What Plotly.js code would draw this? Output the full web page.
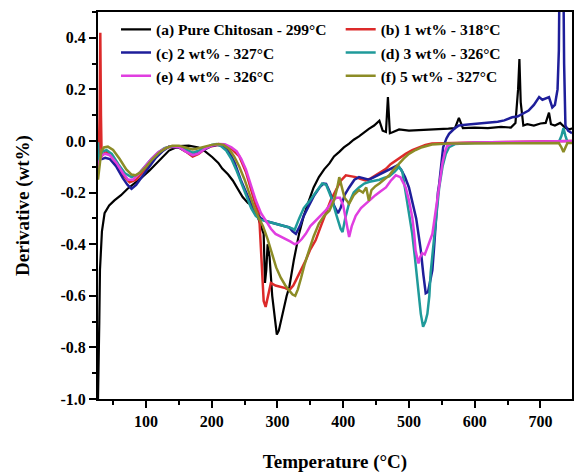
<!DOCTYPE html>
<html>
<head>
<meta charset="utf-8">
<script src="https://cdn.plot.ly/plotly-3.0.1.min.js"></script>
<style>html,body{margin:0;padding:0;background:#fff;}#chart{width:574px;height:473px;}</style>
</head>
<body>
<div id="chart"></div>
<script>
// Series names (legend)
const seriesNames = [
  "(a) Pure Chitosan - 299°C",
  "(b) 1 wt% - 318°C",
  "(c) 2 wt% - 327°C",
  "(d) 3 wt% - 326°C",
  "(e) 4 wt% - 326°C",
  "(f) 5 wt% - 327°C"
];
// [temperature °C, derivative wt%]
const pureChitosan = [[27,-1.0],[28,-0.9],[29,-0.7],[30,-0.5],[31,-0.42],[33,-0.35],[37,-0.28],[44,-0.25],[52,-0.23],[62,-0.21],[72,-0.185],[82,-0.165],[92,-0.145],[105,-0.115],[115,-0.09],[125,-0.065],[135,-0.037],[150,-0.02],[165,-0.018],[180,-0.025],[190,-0.04],[201,-0.063],[210,-0.085],[216,-0.107],[225,-0.13],[232,-0.153],[240,-0.185],[247,-0.217],[255,-0.24],[262,-0.25],[268,-0.28],[272,-0.31],[276,-0.333],[279,-0.36],[281,-0.55],[283,-0.5],[285,-0.4],[288,-0.45],[292,-0.6],[296,-0.7],[299,-0.75],[302,-0.735],[306,-0.69],[310,-0.64],[314,-0.6],[318,-0.566],[325,-0.46],[333,-0.358],[340,-0.29],[348,-0.23],[355,-0.18],[363,-0.14],[371,-0.11],[379,-0.087],[386,-0.06],[394,-0.042],[401,-0.025],[409,-0.01],[416,0.005],[424,0.018],[431,0.032],[439,0.047],[447,0.06],[455,0.079],[460,0.04],[465,0.035],[468,0.17],[471,0.03],[475,0.034],[485,0.045],[500,0.04],[520,0.042],[540,0.045],[560,0.048],[570,0.05],[576,0.09],[582,0.05],[600,0.052],[620,0.05],[640,0.055],[655,0.052],[662,0.07],[666,0.2],[668,0.318],[670,0.15],[674,0.06],[680,0.065],[690,0.06],[700,0.068],[708,0.07],[713,0.11],[716,0.065],[722,0.06],[730,0.07],[738,0.05],[745,0.045],[748,0.05]];
const wt1 = [[27,-0.12],[28,-0.075],[29.5,0.1],[30.5,0.42],[31.5,0.1],[32.5,-0.06],[35,-0.05],[40,-0.043],[48,-0.06],[58,-0.1],[66,-0.135],[75,-0.16],[85,-0.15],[95,-0.12],[105,-0.09],[115,-0.06],[125,-0.035],[135,-0.022],[150,-0.025],[160,-0.04],[171,-0.06],[180,-0.05],[190,-0.03],[200,-0.02],[210,-0.015],[222,-0.02],[232,-0.035],[242,-0.06],[252,-0.12],[260,-0.19],[267,-0.25],[272,-0.28],[276,-0.45],[279,-0.62],[282,-0.643],[286,-0.6],[290,-0.55],[297,-0.56],[305,-0.565],[312,-0.57],[318,-0.578],[324,-0.56],[328,-0.54],[336,-0.5],[343,-0.462],[350,-0.42],[358,-0.385],[366,-0.33],[373,-0.28],[381,-0.23],[389,-0.19],[396,-0.155],[404,-0.133],[411,-0.135],[419,-0.14],[427,-0.148],[434,-0.153],[442,-0.145],[449,-0.133],[457,-0.12],[465,-0.108],[472,-0.09],[480,-0.075],[488,-0.062],[495,-0.05],[505,-0.035],[515,-0.024],[525,-0.015],[535,-0.01],[560,-0.008],[600,-0.006],[650,-0.004],[700,-0.002],[748,0.0]];
const wt2 = [[27,-0.09],[29,-0.07],[33,-0.07],[38,-0.065],[45,-0.07],[55,-0.1],[65,-0.145],[72,-0.17],[78,-0.185],[85,-0.17],[95,-0.135],[105,-0.1],[115,-0.065],[125,-0.04],[135,-0.022],[150,-0.025],[160,-0.04],[171,-0.055],[180,-0.045],[190,-0.03],[200,-0.018],[210,-0.015],[218,-0.02],[226,-0.04],[235,-0.085],[244,-0.15],[252,-0.2],[260,-0.245],[267,-0.28],[275,-0.3],[282,-0.31],[290,-0.315],[298,-0.32],[305,-0.325],[312,-0.33],[318,-0.335],[323,-0.35],[328,-0.36],[334,-0.33],[340,-0.29],[348,-0.25],[356,-0.21],[364,-0.18],[370,-0.165],[374,-0.166],[380,-0.2],[386,-0.25],[392,-0.28],[396,-0.26],[402,-0.21],[409,-0.18],[417,-0.15],[424,-0.14],[431,-0.145],[439,-0.15],[447,-0.14],[455,-0.13],[463,-0.12],[470,-0.11],[477,-0.1],[482,-0.095],[488,-0.11],[494,-0.14],[500,-0.18],[506,-0.25],[511,-0.3],[515,-0.37],[518,-0.424],[522,-0.52],[525.5,-0.59],[529,-0.585],[532,-0.55],[535.6,-0.5],[538,-0.42],[541,-0.3],[544,-0.2],[546,-0.166],[549,-0.08],[552,-0.024],[557,0.01],[561,0.028],[570,0.05],[576,0.06],[590,0.064],[606,0.067],[620,0.07],[635,0.075],[645,0.08],[657,0.092],[665,0.095],[675,0.11],[682,0.118],[690,0.14],[698,0.17],[703,0.16],[708,0.165],[713,0.17],[718,0.13],[722,0.14],[726,0.2],[728,0.35],[730,0.9],[734,0.9],[736,0.3],[738,0.06],[742,0.04],[748,0.03]];
const wt3 = [[27,-0.005],[28,-0.1],[30,-0.06],[34,-0.04],[40,-0.035],[48,-0.05],[58,-0.09],[68,-0.125],[78,-0.14],[88,-0.13],[98,-0.1],[108,-0.07],[118,-0.045],[128,-0.028],[138,-0.02],[150,-0.022],[160,-0.032],[171,-0.045],[180,-0.038],[190,-0.025],[200,-0.015],[207,-0.012],[214,-0.02],[222,-0.037],[230,-0.07],[237,-0.11],[245,-0.16],[252,-0.21],[260,-0.26],[267,-0.29],[274,-0.305],[282,-0.31],[290,-0.315],[298,-0.32],[305,-0.325],[312,-0.33],[318,-0.335],[323,-0.34],[326,-0.345],[333,-0.3],[340,-0.26],[348,-0.235],[353,-0.217],[360,-0.19],[368,-0.165],[374,-0.17],[382,-0.22],[390,-0.29],[396,-0.34],[399,-0.353],[403,-0.3],[409,-0.24],[416,-0.2],[424,-0.18],[432,-0.165],[440,-0.158],[447,-0.155],[455,-0.15],[463,-0.142],[470,-0.137],[478,-0.12],[485,-0.1],[490,-0.12],[495,-0.2],[500,-0.28],[505,-0.36],[509,-0.45],[513,-0.55],[518,-0.67],[521.5,-0.72],[525,-0.7],[528,-0.67],[531,-0.6],[533,-0.51],[537,-0.4],[541,-0.295],[546,-0.18],[551,-0.1],[556,-0.05],[561,-0.024],[570,-0.012],[600,-0.008],[650,-0.006],[700,-0.004],[728,-0.004],[732,0.02],[735,0.05],[738,0.02],[741,-0.003],[748,-0.004]];
const wt4 = [[27,-0.11],[29,-0.08],[33,-0.055],[38,-0.05],[45,-0.055],[55,-0.085],[65,-0.125],[73,-0.15],[80,-0.15],[88,-0.13],[98,-0.1],[108,-0.07],[118,-0.045],[128,-0.03],[138,-0.02],[150,-0.023],[160,-0.04],[171,-0.055],[180,-0.048],[190,-0.03],[200,-0.018],[210,-0.012],[220,-0.013],[230,-0.025],[238,-0.04],[245,-0.07],[252,-0.11],[260,-0.17],[267,-0.23],[275,-0.28],[282,-0.31],[290,-0.34],[297,-0.36],[305,-0.37],[313,-0.38],[320,-0.39],[326,-0.4],[331,-0.395],[337,-0.38],[343,-0.36],[350,-0.33],[358,-0.31],[366,-0.29],[373,-0.27],[379,-0.25],[384,-0.23],[390,-0.22],[395,-0.22],[400,-0.25],[405,-0.32],[409,-0.372],[413,-0.33],[419,-0.29],[427,-0.26],[434,-0.243],[442,-0.225],[449,-0.21],[457,-0.195],[465,-0.18],[472,-0.155],[480,-0.133],[487,-0.14],[491,-0.16],[495,-0.18],[500,-0.23],[505,-0.295],[508,-0.36],[510,-0.424],[514.5,-0.475],[517,-0.45],[520,-0.435],[524,-0.44],[527,-0.42],[531,-0.395],[535.6,-0.36],[539,-0.3],[543,-0.23],[547,-0.14],[551,-0.085],[555,-0.04],[558,-0.02],[565,-0.01],[600,-0.006],[650,-0.004],[700,-0.002],[748,0.0]];
const wt5 = [[27,-0.15],[29,-0.1],[32,-0.04],[36,-0.025],[42,-0.022],[50,-0.035],[60,-0.07],[70,-0.11],[78,-0.13],[84,-0.133],[92,-0.12],[100,-0.1],[110,-0.07],[120,-0.045],[130,-0.028],[140,-0.018],[150,-0.018],[160,-0.025],[171,-0.033],[180,-0.028],[190,-0.02],[200,-0.015],[210,-0.012],[218,-0.015],[226,-0.03],[234,-0.06],[242,-0.1],[250,-0.15],[258,-0.21],[265,-0.26],[272,-0.3],[278,-0.33],[285,-0.38],[292,-0.44],[298,-0.49],[305,-0.53],[312,-0.56],[318,-0.58],[323,-0.595],[327,-0.6],[331,-0.575],[336,-0.53],[341,-0.48],[348,-0.424],[355,-0.37],[363,-0.32],[371,-0.29],[379,-0.27],[386,-0.23],[391,-0.18],[394,-0.14],[397,-0.17],[402,-0.22],[409,-0.243],[416,-0.21],[424,-0.19],[430,-0.2],[435,-0.18],[439,-0.232],[443,-0.19],[449,-0.175],[455,-0.165],[462,-0.15],[470,-0.133],[477,-0.11],[485,-0.087],[492,-0.068],[500,-0.05],[510,-0.035],[520,-0.024],[535,-0.014],[560,-0.01],[600,-0.01],[650,-0.01],[700,-0.008],[728,-0.008],[732,-0.025],[735,-0.043],[738,-0.025],[741,-0.008],[748,-0.008]];

const xTickVals = [100,200,300,400,500,600,700];
const xTickText = ["100","200","300","400","500","600","700"];
const yTickVals = [-1.0,-0.8,-0.6,-0.4,-0.2,0.0,0.2,0.4];
const yTickText = ["-1.0","-0.8","-0.6","-0.4","-0.2","0.0","0.2","0.4"];

const allSeries = [pureChitosan, wt1, wt2, wt3, wt4, wt5];
const colors = ["#000000","#dc2a2a","#1e1e9a","#1f9a9a","#e03ee0","#8c8c26"];
const widths = [2.2, 2.5, 2.5, 2.5, 2.5, 2.5];
const legendFor = ["legend","legend2","legend","legend2","legend","legend2"];

const font = {family: "'Liberation Serif', 'Times New Roman', serif", color: "#000", weight: "bold"};

const traces = allSeries.map((s, i) => ({
  type: "scatter", mode: "lines",
  x: s.map(p => p[0]), y: s.map(p => p[1]),
  name: seriesNames[i],
  legend: legendFor[i],
  line: {color: colors[i], width: widths[i]}
}));

const layout = {
  width: 574, height: 473,
  margin: {l: 98, r: 2, t: 12, b: 74},
  paper_bgcolor: "#fff", plot_bgcolor: "#fff",
  font: Object.assign({size: 16}, font),
  showlegend: true,
  legend: {x: 0.038, y: 0.998, xanchor: "left", yanchor: "top", bgcolor: "rgba(0,0,0,0)",
           font: Object.assign({size: 15.5}, font), tracegroupgap: 0, itemwidth: 30},
  legend2: {x: 0.512, y: 0.998, xanchor: "left", yanchor: "top", bgcolor: "rgba(0,0,0,0)",
           font: Object.assign({size: 15.5}, font), tracegroupgap: 0, itemwidth: 30},
  xaxis: {
    range: [27, 748], tickmode: "array", tickvals: xTickVals, ticktext: xTickText,
    ticks: "outside", ticklen: 7, tickwidth: 2, tickcolor: "#000",
    minor: {tickmode: "linear", tick0: 50, dtick: 100, ticks: "outside", ticklen: 4, tickwidth: 2, tickcolor: "#000", showgrid: false},
    showline: true, linewidth: 2, linecolor: "#000", mirror: true,
    showgrid: false, zeroline: false,
    tickfont: Object.assign({size: 16}, font),
    title: {text: "Temperature (°C)", font: Object.assign({size: 19}, font), standoff: 25}
  },
  yaxis: {
    range: [-1.0, 0.5], tickmode: "array", tickvals: yTickVals, ticktext: yTickText,
    ticks: "outside", ticklen: 7, tickwidth: 2, tickcolor: "#000",
    minor: {tickmode: "linear", tick0: -0.9, dtick: 0.2, ticks: "outside", ticklen: 4, tickwidth: 2, tickcolor: "#000", showgrid: false},
    showline: true, linewidth: 2, linecolor: "#000", mirror: true,
    showgrid: false, zeroline: false,
    tickfont: Object.assign({size: 16}, font),
    title: {text: "Derivative (wt%)", font: Object.assign({size: 19}, font), standoff: 26}
  }
};

Plotly.newPlot("chart", traces, layout, {displayModeBar: false, staticPlot: true});
</script>
</body>
</html>
